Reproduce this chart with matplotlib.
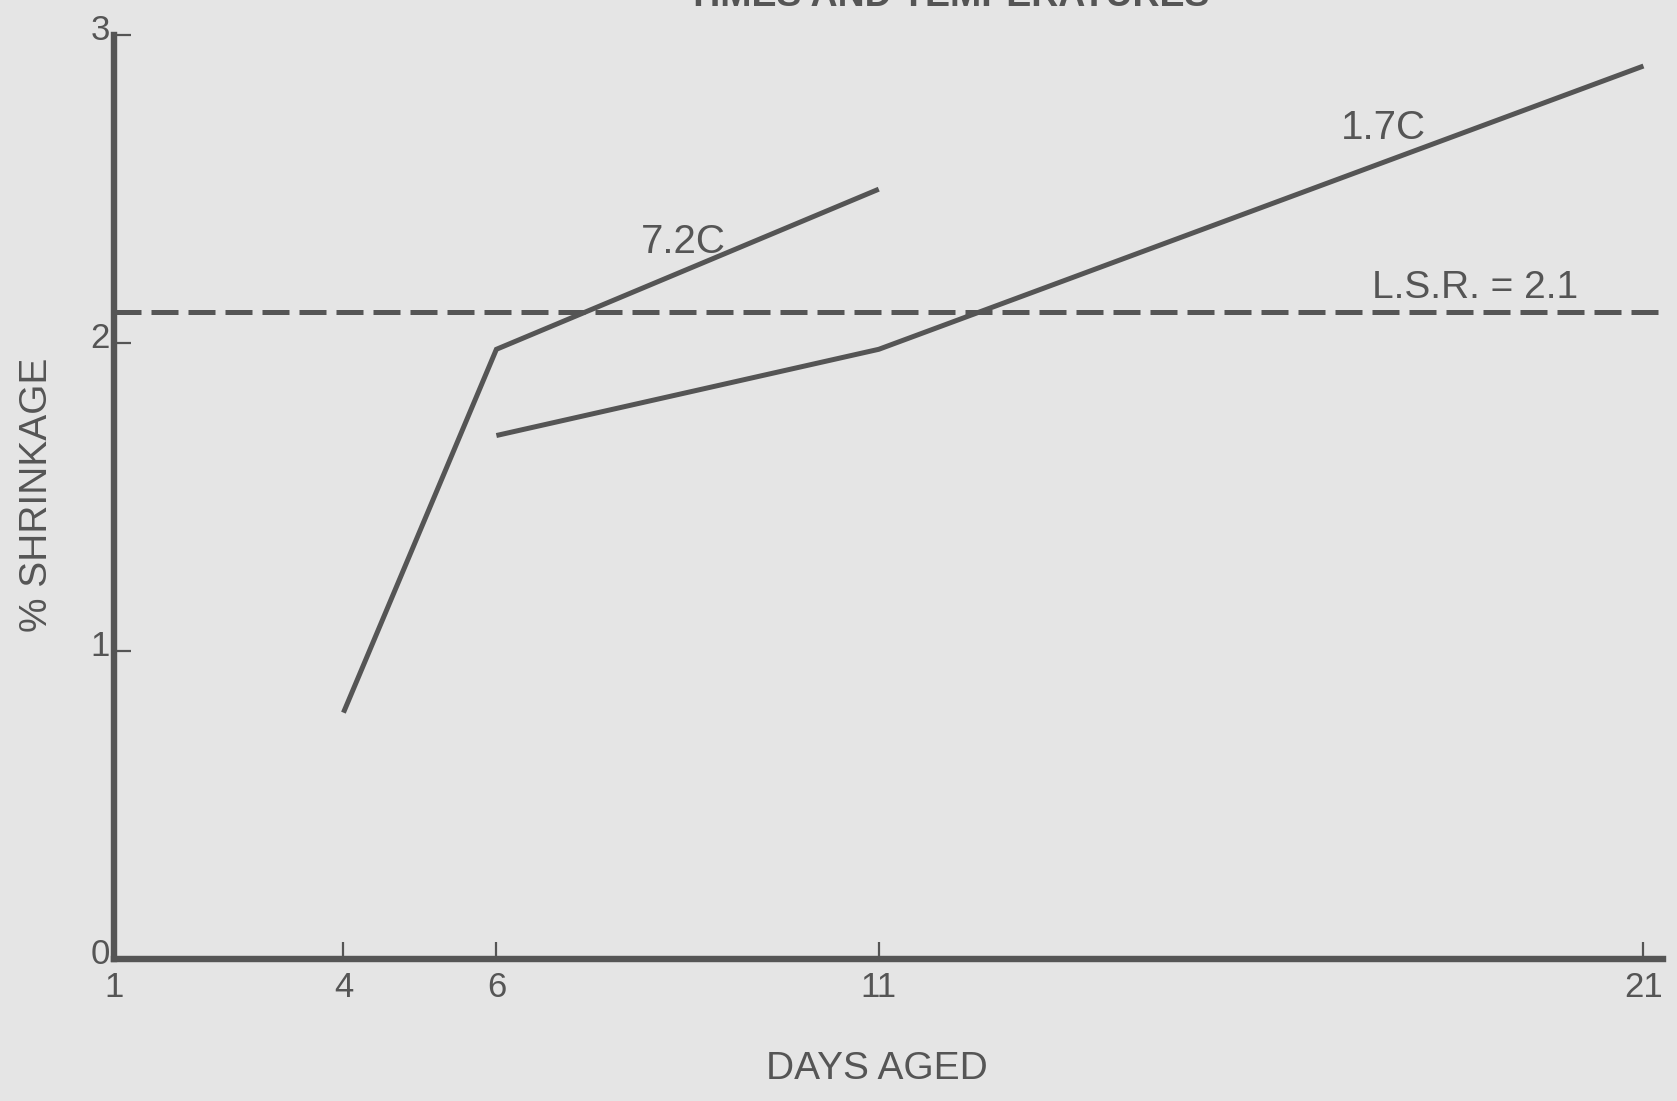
import matplotlib
matplotlib.use('Agg')
import matplotlib.pyplot as plt
from matplotlib.transforms import ScaledTranslation

# shrinkage after aging at two temperatures
days_72 = [4, 6, 11]
shrink_72 = [0.8, 1.98, 2.5]

days_17 = [6, 11, 21]
shrink_17 = [1.7, 1.98, 2.9]

lsr = 2.1

x_ticks = [1, 4, 6, 11, 21]
y_ticks = [0, 1, 2, 3]

ink = '#555555'
paper = '#e5e5e5'

plt.rcParams['font.family'] = ['Liberation Sans', 'DejaVu Sans']

fig = plt.figure(figsize=(16.77, 11.01), dpi=100, facecolor=paper)
ax = fig.add_axes([0.068, 0.129, 0.9234, 0.839])
ax.set_facecolor('none')

ax.plot(days_72, shrink_72, color=ink, lw=3.6, solid_capstyle='butt', solid_joinstyle='miter')
ax.plot(days_17, shrink_17, color=ink, lw=3.6, solid_capstyle='butt', solid_joinstyle='miter')
ax.axhline(lsr, color=ink, lw=3.6, dashes=(5.4, 2.0))

ax.text(8.45, 2.33, '7.2C', fontsize=29, color=ink, ha='center', va='center')
ax.text(17.6, 2.70, '1.7C', fontsize=29, color=ink, ha='center', va='center')
ax.text(18.8, 2.18, 'L.S.R. = %.1f' % lsr, fontsize=28, color=ink, ha='center', va='center')

ax.set_xlim(1, 21.25)
ax.set_ylim(0, 3)
ax.set_xticks(x_ticks)
ax.set_xticklabels([str(t) for t in x_ticks])
ax.set_yticks(y_ticks)
ax.set_yticklabels([str(t) for t in y_ticks])

for side in ['top', 'right']:
    ax.spines[side].set_visible(False)
for side in ['left', 'bottom']:
    ax.spines[side].set_color(ink)
    ax.spines[side].set_linewidth(4.6)
    ax.spines[side].set_capstyle('projecting')

ax.tick_params(axis='both', direction='in', length=12, width=1.6, color=ink,
               labelsize=25, labelcolor=ink)
ax.tick_params(axis='x', pad=9)
ax.tick_params(axis='y', pad=3)

# y labels sit a little above their ticks
shift = ScaledTranslation(0, 0.08, fig.dpi_scale_trans)
for lbl in ax.get_yticklabels():
    lbl.set_transform(lbl.get_transform() + shift)

fig.text(0.022, 0.551, '% SHRINKAGE', rotation=90, fontsize=28, color=ink,
         ha='center', va='center')
fig.text(0.523, 0.029, 'DAYS AGED', fontsize=28, color=ink, ha='center', va='center')
fig.text(0.7215, 0.9945, 'TIMES AND TEMPERATURES', fontsize=27, fontweight='bold',
         color=ink, ha='right', va='baseline')

fig.savefig('out.png', dpi=100, facecolor=paper)
